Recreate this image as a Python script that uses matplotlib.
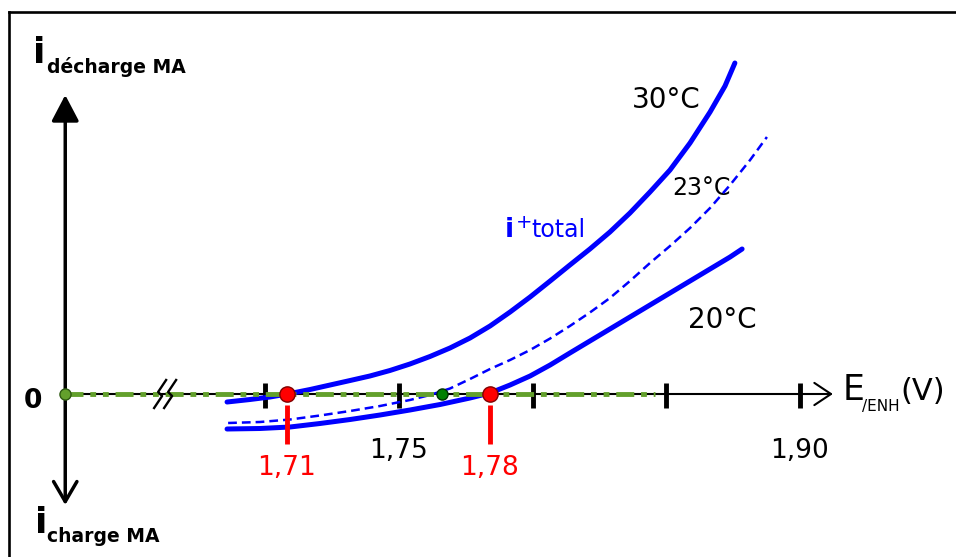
import matplotlib
matplotlib.use("Agg")
import matplotlib.pyplot as plt
from matplotlib.lines import Line2D
import numpy as np

W, H = 956, 557

# potential (V) vs current (arbitrary units)
e_30 = [1.6856, 1.6942, 1.7017, 1.7092, 1.7167, 1.7242, 1.7317, 1.7391, 1.7466,
        1.7541, 1.7616, 1.7691, 1.7766, 1.7841, 1.7916, 1.7991, 1.8066, 1.8140,
        1.8215, 1.8290, 1.8365, 1.8440, 1.8515, 1.8590, 1.8665, 1.8721, 1.8758]
i_30 = [-0.08, -0.055, -0.03, 0.005, 0.045, 0.09, 0.135, 0.18, 0.235,
        0.30, 0.375, 0.46, 0.56, 0.68, 0.82, 0.97, 1.13, 1.29,
        1.45, 1.62, 1.81, 2.02, 2.24, 2.51, 2.82, 3.08, 3.31]

e_23 = [1.6860, 1.6979, 1.7092, 1.7204, 1.7317, 1.7429, 1.7541, 1.7616, 1.7691,
        1.7766, 1.7841, 1.7916, 1.7991, 1.8066, 1.8140, 1.8215, 1.8290, 1.8365,
        1.8440, 1.8515, 1.8590, 1.8665, 1.8740, 1.8815, 1.8878]
i_23 = [-0.29, -0.28, -0.255, -0.215, -0.17, -0.12, -0.06, -0.01, 0.055,
        0.15, 0.25, 0.34, 0.44, 0.555, 0.68, 0.815, 0.96, 1.13,
        1.31, 1.48, 1.66, 1.86, 2.09, 2.34, 2.57]

e_20 = [1.6856, 1.6979, 1.7092, 1.7204, 1.7317, 1.7429, 1.7541, 1.7654, 1.7766,
        1.7841, 1.7916, 1.7991, 1.8066, 1.8140, 1.8215, 1.8290, 1.8365, 1.8440,
        1.8515, 1.8590, 1.8665, 1.8740, 1.8785]
i_20 = [-0.35, -0.345, -0.33, -0.295, -0.255, -0.21, -0.16, -0.105, -0.04,
        0.01, 0.09, 0.18, 0.29, 0.41, 0.53, 0.65, 0.77, 0.89,
        1.01, 1.13, 1.25, 1.37, 1.45]

e_eq = [1.708, 1.784]          # red points (1,71 / 1,78)
eq_labels = ["1,71", "1,78"]
e_mid = 1.766                  # green point on 23 °C curve

tick_e = [1.70, 1.75, 1.80, 1.85, 1.90]
tick_labels = {1.75: "1,75", 1.90: "1,90"}

e_origin = 1.625               # where the current axis sits (axis is broken)
e_break = 1.6624
e_green_end = 1.846
e_arrow = 1.9125
i_top, i_bottom = 2.99, -1.11

# pixel <-> data mapping of the drawing
px_per_v = 133.5 / 0.05
def xd(p):
    return 1.75 + (p - 399) / px_per_v
def yd(r):
    return (394 - r) / 100

fig = plt.figure(figsize=(W / 100, H / 100), dpi=100)
ax = fig.add_axes([0, 0, 1, 1])
ax.set_xlim(xd(0), xd(W))
ax.set_ylim(yd(H), yd(0))
ax.axis("off")

# frame (only top and left visible)
fig.add_artist(Line2D([9 / W, 9 / W], [0, 1 - 12 / H], transform=fig.transFigure,
                      color="black", lw=1.9))
fig.add_artist(Line2D([9 / W, 1], [1 - 12 / H, 1 - 12 / H], transform=fig.transFigure,
                      color="black", lw=1.9))

# potential axis
ax.annotate("", xy=(e_arrow, 0), xytext=(e_origin, 0),
            arrowprops=dict(arrowstyle="->,head_length=0.6,head_width=0.4",
                            mutation_scale=20, lw=1.5, color="black",
                            shrinkA=0, shrinkB=0), zorder=2)
# current axis
ax.annotate("", xy=(e_origin, i_top), xytext=(e_origin, 0),
            arrowprops=dict(arrowstyle="-|>,head_length=0.8,head_width=0.42",
                            mutation_scale=20, lw=2.5, color="black",
                            shrinkA=0, shrinkB=0), zorder=2)
ax.annotate("", xy=(e_origin, i_bottom), xytext=(e_origin, 0),
            arrowprops=dict(arrowstyle="->,head_length=0.72,head_width=0.42",
                            mutation_scale=20, lw=2.5, color="black",
                            shrinkA=0, shrinkB=0), zorder=2)

# ticks
ax.vlines(tick_e, -0.14, 0.11, color="black", lw=3.5, zorder=3)
for e, lab in tick_labels.items():
    ax.text(e, yd(458), lab, fontsize=19, ha="center", va="baseline", color="black")

# axis break symbol (two zigzags)
zz_x = np.array([6, -2, 2, -6]) / px_per_v
zz_y = np.array([-14, -2, 2, 14]) / -100
for off in (-5, 5):
    ax.plot(e_break + off / px_per_v + zz_x, zz_y, color="black", lw=1.7, zorder=6)

# curves
ax.plot(e_30, i_30, color="#0000ff", lw=3.6, solid_capstyle="round",
        solid_joinstyle="round", zorder=4)
ax.plot(e_20, i_20, color="#0000ff", lw=3.6, solid_capstyle="round",
        solid_joinstyle="round", zorder=4)
ax.plot(e_23, i_23, color="#0000ff", lw=1.8, dashes=(3.5, 2), zorder=4)

# green zero-current line
ax.plot([e_origin, e_green_end], [0, 0], color="#63a02c", lw=3.5,
        dashes=(3.7, 1.4, 1.2, 1.4, 1.2, 1.4), zorder=5)
ax.plot([e_origin], [0], "o", ms=8, color="#63a02c", mec="#2e5a12", mew=1, zorder=7)
ax.plot([e_mid], [0], "o", ms=8, color="#008000", mec="#003300", mew=1, zorder=7)

# equilibrium potentials
ax.vlines(e_eq, -0.50, -0.11, color="#ff0000", lw=3.5, zorder=6)
ax.plot(e_eq, [0, 0], "o", ms=11, color="#ff0000", mec="#800000", mew=1, zorder=8)
for e, lab in zip(e_eq, eq_labels):
    ax.text(e, yd(475), lab, fontsize=19, ha="center", va="baseline", color="#ff0000")

# labels
ax.text(xd(632), yd(108), "30°C", fontsize=20, va="baseline")
ax.text(xd(672), yd(195), "23°C", fontsize=17, va="baseline")
ax.text(xd(688), yd(328), "20°C", fontsize=20, va="baseline")

ax.text(xd(505), yd(237), "i", fontsize=19, fontweight="bold", color="#0000ff", va="baseline")
ax.text(xd(516), yd(223), "+", fontsize=14, color="#0000ff", va="center")
ax.text(xd(531), yd(237), "total", fontsize=17, color="#0000ff", va="baseline")

ax.text(xd(33), yd(401), "0", fontsize=19, fontweight="bold", ha="center", va="center")

ax.text(xd(33), yd(63), "i", fontsize=26, fontweight="bold", va="baseline")
ax.text(xd(47), yd(73), "décharge MA", fontsize=13.5, fontweight="bold", va="baseline")
ax.text(xd(35), yd(533), "i", fontsize=26, fontweight="bold", va="baseline")
ax.text(xd(47), yd(542), "charge MA", fontsize=13.5, fontweight="bold", va="baseline")

ax.text(xd(843), yd(400), "E", fontsize=25, va="baseline")
ax.text(xd(862), yd(411), "/ENH", fontsize=11, va="baseline")
ax.text(xd(900), yd(400), "(V)", fontsize=22, va="baseline")

fig.savefig("out.png", dpi=100)
